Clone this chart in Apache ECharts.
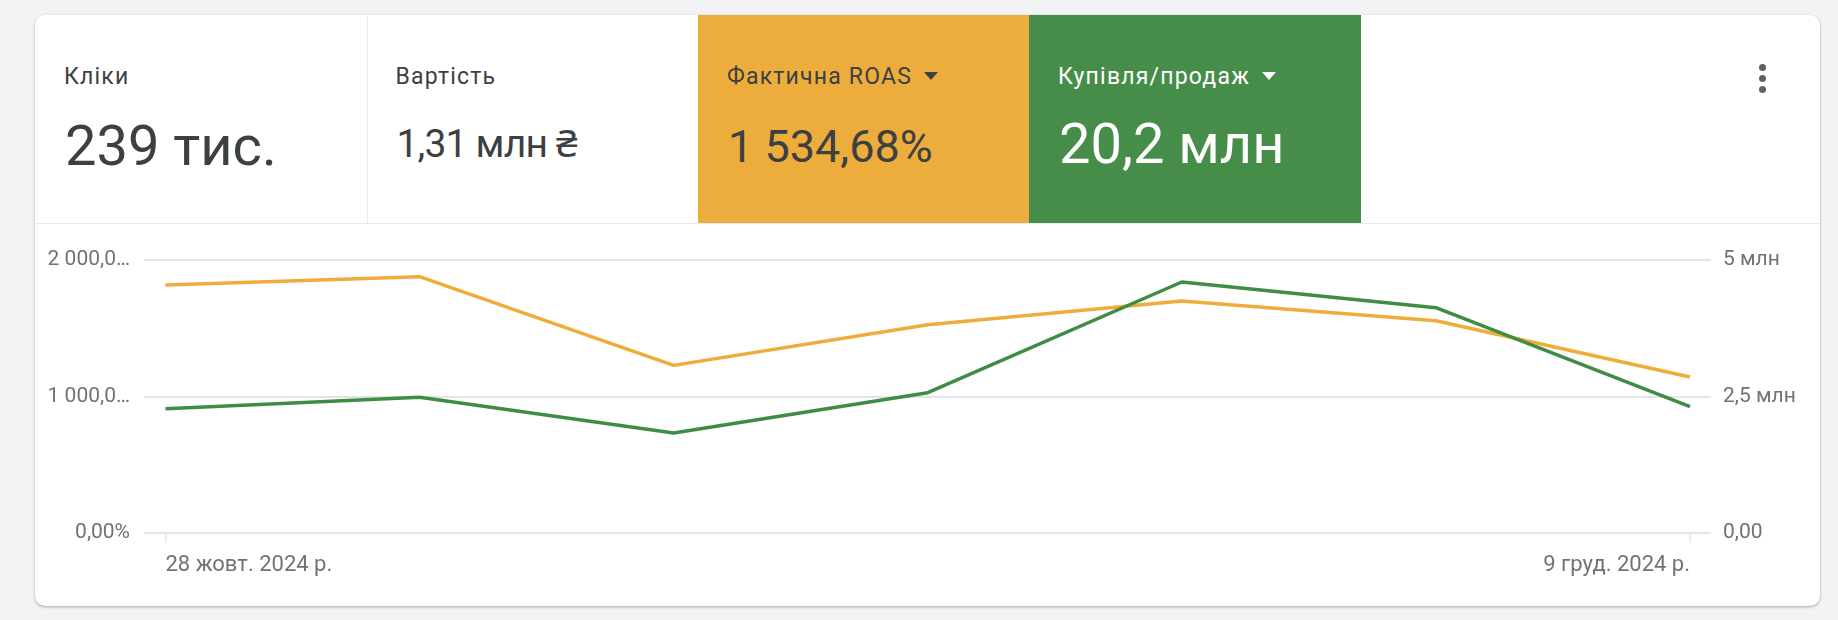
<!DOCTYPE html>
<html>
<head>
<meta charset="utf-8">
<script src="https://cdn.jsdelivr.net/npm/echarts@6/dist/echarts.min.js"></script>
<style>
  html, body { margin:0; padding:0; width:1838px; height:620px; background:#f1f3f4; overflow:hidden; font-family: Roboto, "Noto Sans", Arial, sans-serif; }
  #card { position:absolute; left:35px; top:15px; width:1785px; height:591px; background:#fff; border-radius:10px; box-shadow:0 1px 3px rgba(60,64,67,0.30), 0 1px 2px rgba(60,64,67,0.15); overflow:hidden; }
  #tiles { position:absolute; left:0; top:0; width:1785px; height:208px; border-bottom:1px solid #e8eaed; }
  .tile { position:absolute; top:0; height:208px; width:331.5px; color:#3c4043; }
  .tile .lbl { position:absolute; left:29px; top:48px; font-size:23px; letter-spacing:1.2px; line-height:28px; white-space:nowrap; }
  .tile .val { position:absolute; left:30px; white-space:nowrap; line-height:1; }
  .tri { display:inline-block; width:0; height:0; border-left:7px solid transparent; border-right:7px solid transparent; border-top:8px solid #3c4043; margin-left:12px; vertical-align:middle; position:relative; top:-2px; }
  #dots { position:absolute; left:1724px; top:49px; }
  #dots div { width:7px; height:7px; border-radius:50%; background:#5f6368; margin-bottom:4px; }
  #chart { position:absolute; left:0; top:0; width:1838px; height:620px; }
</style>
</head>
<body>
<div id="card">
  <div id="tiles">
    <div class="tile" style="left:0; border-right:1px solid #e8eaed;">
      <div class="lbl">Кліки</div>
      <div class="val" style="top:103px; font-size:56px;">239 тис.</div>
    </div>
    <div class="tile" style="left:331.5px;">
      <div class="lbl">Вартість</div>
      <div class="val" style="top:110px; font-size:39px; letter-spacing:-0.8px;">1,31 млн ₴</div>
    </div>
    <div class="tile" style="left:663px; background:#ecad3d;">
      <div class="lbl">Фактична ROAS<span class="tri"></span></div>
      <div class="val" style="top:109px; font-size:45px;">1 534,68%</div>
    </div>
    <div class="tile" style="left:994px; background:#468d49; color:#fff;">
      <div class="lbl">Купівля/продаж<span class="tri" style="border-top-color:#fff;"></span></div>
      <div class="val" style="top:101px; font-size:56px;">20,2 млн</div>
    </div>
  </div>
  <div id="dots"><div></div><div></div><div></div></div>
</div>
<div id="chart"></div>
<script>
// ---- data ----
const categories = ['28 жовт. 2024 р.', '4 лист. 2024 р.', '11 лист. 2024 р.', '18 лист. 2024 р.', '25 лист. 2024 р.', '2 груд. 2024 р.', '9 груд. 2024 р.'];
const roasValues = [1817, 1878, 1228, 1526, 1700, 1555, 1143];            // Фактична ROAS, %
const salesValues = [2277000, 2485000, 1832000, 2570000, 4597000, 4127000, 2313000]; // Купівля/продаж
const leftTickValues = [0, 1000, 2000];
const leftTickLabels = ['0,00%', '1 000,0…', '2 000,0…'];
const rightTickValues = [0, 2500000, 5000000];
const rightTickLabels = ['0,00', '2,5 млн', '5 млн'];
const shownDateIdx = [0, categories.length - 1];

const ORANGE = '#efac38';
const GREEN = '#3f8c43';
const LABEL = '#6f7378';
const GRIDC = '#e3e4e6';

const roasData = roasValues.map((v, i) => [i, v]);
const salesData = salesValues.map((v, i) => [i, v]);

const chart = echarts.init(document.getElementById('chart'), null, { renderer: 'canvas' });
const xMin = -0.0846, xMax = 6.0827;
function xAxisBase(idx, align) {
  return {
    type: 'value', min: xMin, max: xMax, position: 'bottom',
    axisLine: { show: false },
    splitLine: { show: false },
    axisTick: { show: true, length: 10, lineStyle: { color: GRIDC, width: 1.5 }, customValues: [shownDateIdx[idx]] },
    axisLabel: {
      show: true, customValues: [shownDateIdx[idx]], align: align, margin: 21,
      color: LABEL, fontSize: 22, fontFamily: 'Roboto',
      formatter: v => categories[Math.round(v)]
    }
  };
}
chart.setOption({
  animation: false,
  grid: { left: 144, right: 127, top: 260, bottom: 87, containLabel: false },
  xAxis: [xAxisBase(0, 'left'), xAxisBase(1, 'right')],
  yAxis: [
    {
      type: 'value', min: 0, max: 2000, interval: 1000, position: 'left',
      axisLine: { show: false }, axisTick: { show: false },
      splitLine: { lineStyle: { color: GRIDC, width: 2 } },
      axisLabel: { color: LABEL, fontSize: 21, fontFamily: 'Roboto', margin: 14,
        formatter: v => leftTickLabels[leftTickValues.indexOf(v)] }
    },
    {
      type: 'value', min: 0, max: 5000000, interval: 2500000, position: 'right',
      axisLine: { show: false }, axisTick: { show: false },
      splitLine: { show: false },
      axisLabel: { color: LABEL, fontSize: 21, fontFamily: 'Roboto', margin: 12,
        formatter: v => rightTickLabels[rightTickValues.indexOf(v)] }
    }
  ],
  series: [
    { name: 'Фактична ROAS', type: 'line', xAxisIndex: 0, yAxisIndex: 0, data: roasData,
      showSymbol: false, symbol: 'none', lineStyle: { color: ORANGE, width: 3.5 }, itemStyle: { color: ORANGE } },
    { name: 'Купівля/продаж', type: 'line', xAxisIndex: 0, yAxisIndex: 1, data: salesData,
      showSymbol: false, symbol: 'none', lineStyle: { color: GREEN, width: 3.5 }, itemStyle: { color: GREEN } }
  ]
});
</script>
</body>
</html>
